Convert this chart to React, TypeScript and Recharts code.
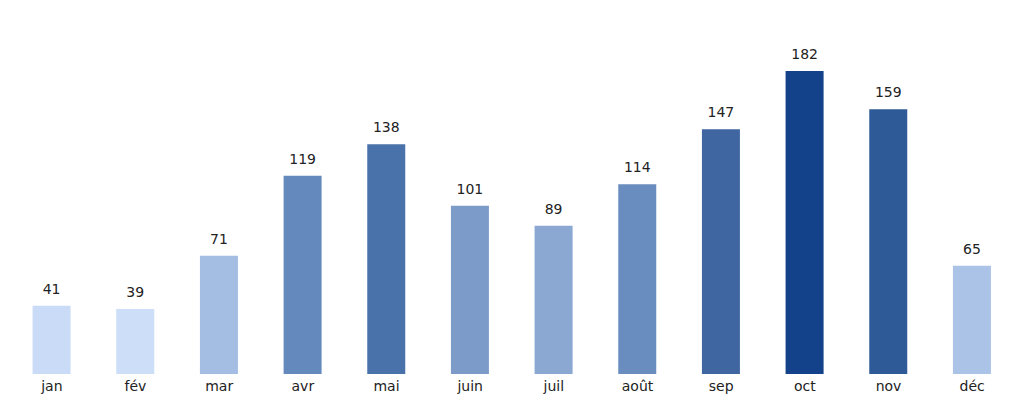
import { BarChart, Bar, XAxis, YAxis, Cell, LabelList } from 'recharts'

const months = ['jan', 'fév', 'mar', 'avr', 'mai', 'juin', 'juil', 'août', 'sep', 'oct', 'nov', 'déc']
const counts = [41, 39, 71, 119, 138, 101, 89, 114, 147, 182, 159, 65]
const barColors = [
  '#c9dbf6', '#cddff8', '#a3bde3', '#6489bd', '#4a72aa', '#7c9bc9',
  '#8ba8d3', '#6a8dbf', '#3f66a0', '#13428a', '#2f5a98', '#aac3e6',
]

const data = months.map((m, i) => ({ month: m, value: counts[i] }))

const font = 'DejaVu Sans, sans-serif'

export default function App() {
  return (
    <div style={{ position: 'absolute', left: 0, top: 0, fontFamily: font }}>
      <BarChart width={1024} height={404} data={data} barCategoryGap="27%"
        margin={{ top: 41, right: 10, left: 10, bottom: 0 }}>
        <XAxis dataKey="month" axisLine={false} tickLine={false} tickSize={5} tickMargin={2} height={30}
          interval={0} tick={{ fontSize: 14, fill: '#222', fontFamily: font }} />
        <YAxis hide domain={[0, 200]} />
        <Bar dataKey="value" isAnimationActive={false}>
          {data.map((_, i) => <Cell key={i} fill={barColors[i]} />)}
          <LabelList dataKey="value" position="top" offset={12}
            style={{ fontSize: 14, fill: '#222', fontFamily: font }} />
        </Bar>
      </BarChart>
    </div>
  )
}
